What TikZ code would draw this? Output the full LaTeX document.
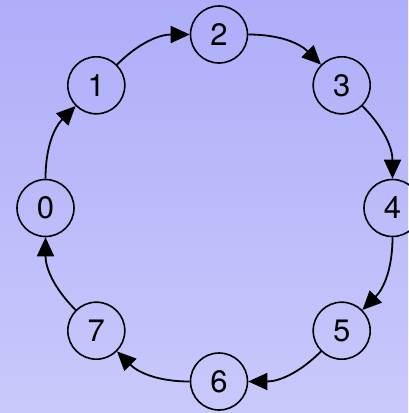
\documentclass[tikz,border=0pt]{standalone}
\usepackage{fontspec}
\setmainfont{TeX Gyre Heros}
\usetikzlibrary{arrows.meta,calc}
\definecolor{bgtop}{RGB}{174,174,250}
\definecolor{bgbot}{RGB}{201,201,251}
\begin{document}
\begin{tikzpicture}[x=1pt,y=1pt,
  ringnode/.style={circle,draw=black,line width=1.6pt,minimum size=57pt,inner sep=0pt,
    font=\fontsize{31}{33}\selectfont},
  edge/.style={-{Triangle[length=19pt,width=17pt]},line width=1.8pt,bend left=22.5}]
\useasboundingbox (0,0) rectangle (408,-413);
\shade[top color=bgtop,bottom color=bgbot] (0,0) rectangle (408,-413);
\coordinate (c) at (219,-208);
\foreach \i/\a in {0/180,1/135,2/90,3/45,4/0,5/-45,6/-90,7/-135}{
  \node[ringnode] (n\i) at ($(c)+(\a:173.5)$) {\i};
}
\draw[edge] (n0) to (n1);
\draw[edge] (n1) to (n2);
\draw[edge] (n2) to (n3);
\draw[edge] (n3) to (n4);
\draw[edge] (n4) to (n5);
\draw[edge] (n5) to (n6);
\draw[edge] (n6) to (n7);
\draw[edge] (n7) to (n0);
\end{tikzpicture}
\end{document}
